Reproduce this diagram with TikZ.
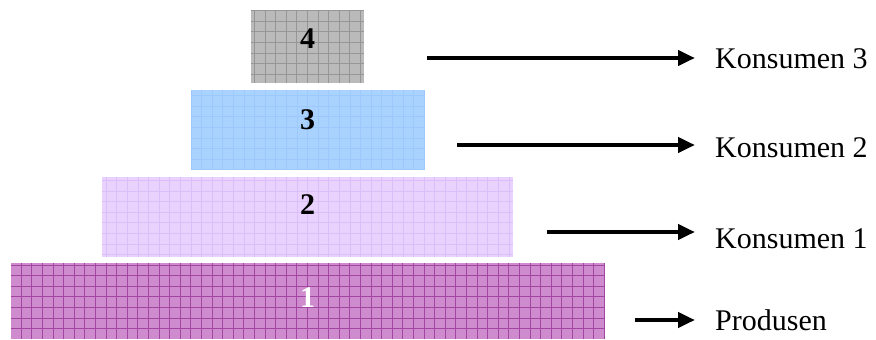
\documentclass[tikz,border=0pt]{standalone}
\usepackage{fontspec}
\setmainfont{Liberation Serif}
\usetikzlibrary{arrows.meta,positioning}
\definecolor{tieronefill}{RGB}{206,140,206}
\definecolor{tieroneline}{RGB}{162,70,162}
\definecolor{tiertwofill}{RGB}{234,210,255}
\definecolor{tiertwoline}{RGB}{220,190,250}
\definecolor{tierthreefill}{RGB}{170,210,255}
\definecolor{tierthreeline}{RGB}{156,200,252}
\definecolor{tierfourfill}{RGB}{186,186,186}
\definecolor{tierfourline}{RGB}{150,150,150}

\begin{document}
\begin{tikzpicture}[x=1pt, y=-1pt,
  tier/.style={draw=none, inner sep=0pt, minimum height=#1},
  numlabel/.style={font=\fontsize{30}{35}\selectfont\bfseries, inner sep=0pt},
  levellabel/.style={font=\fontsize{30}{35}\selectfont, anchor=base west,
    inner xsep=20pt, inner ysep=0pt},
  arrow/.style={-{Triangle[length=17pt,width=15pt]}, line width=4.5pt}
]
\useasboundingbox (0,0) rectangle (876,340);

% piramida
\node[tier=76pt, minimum width=593pt, fill=tieronefill] (tier1) at (307.5,301) {};
\node[tier=80pt, minimum width=411pt, fill=tiertwofill] (tier2) at (307.5,217) {};
\node[tier=80pt, minimum width=233pt, fill=tierthreefill] (tier3) at (307.5,130) {};
\node[tier=73pt, minimum width=113pt, fill=tierfourfill] (tier4) at (307.5,46.5) {};

\draw[tieroneline, line width=0.8pt, step=10.6pt] (tier1.south west) grid (tier1.north east);
\draw[tiertwoline, line width=0.6pt, step=10.6pt] (tier2.south west) grid (tier2.north east);
\draw[tierthreeline, line width=0.6pt, step=10.6pt] (tier3.south west) grid (tier3.north east);
\draw[tierfourline, line width=0.8pt, step=10.6pt] (tier4.south west) grid (tier4.north east);

\node[numlabel, text=white] (num1) at (307.5,298) {1};
\node[numlabel] (num2) at (307.5,205) {2};
\node[numlabel] (num3) at (307.5,120) {3};
\node[numlabel] (num4) at (307.5,38.5) {4};

% tingkat trofik
\node[levellabel] (kons3) at (695,68) {Konsumen 3};
\node[levellabel] (kons2) at (695,157) {Konsumen 2};
\node[levellabel] (kons1) at (695,248) {Konsumen 1};
\node[levellabel] (prod) at (695,330) {Produsen};

\coordinate (from4) at (427,58);
\coordinate (from3) at (457,145);
\coordinate (from2) at (547,232);
\coordinate (from1) at (635,320);

\draw[arrow] (from4) -- (from4 -| kons3.west);
\draw[arrow] (from3) -- (from3 -| kons2.west);
\draw[arrow] (from2) -- (from2 -| kons1.west);
\draw[arrow] (from1) -- (from1 -| prod.west);
\end{tikzpicture}
\end{document}
